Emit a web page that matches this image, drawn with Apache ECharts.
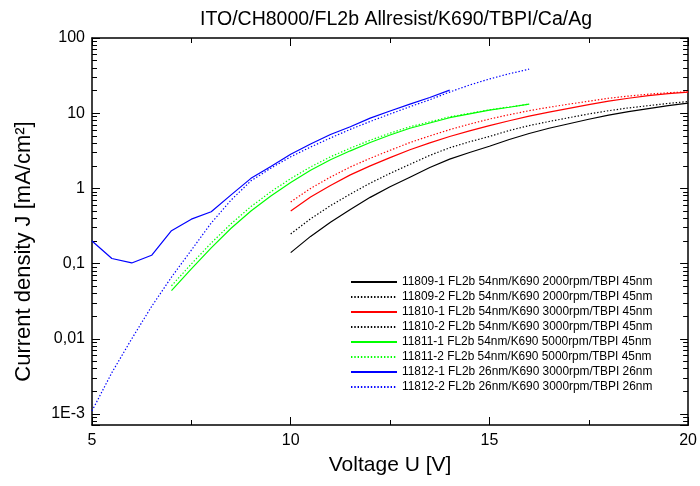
<!DOCTYPE html>
<html>
<head>
<meta charset="utf-8">
<script src="https://cdn.jsdelivr.net/npm/echarts@6/dist/echarts.min.js"></script>
<style>html,body{margin:0;padding:0;background:#fff}#c{width:700px;height:486px}</style>
</head>
<body>
<div id="c"></div>
<script>
// ---- data ----
const title = 'ITO/CH8000/FL2b Allresist/K690/TBPI/Ca/Ag';
const xName = 'Voltage U [V]';
const yName = 'Current density J [mA/cm²]';
const xTickValues = [5, 10, 15, 20];
const yTickLabels = {'-3': '1E-3', '-2': '0,01', '-1': '0,1', '0': '1', '1': '10', '2': '100'};
const yMin = 7.14e-4, yMax = 100;
const seriesNames = [
  '11809-1 FL2b 54nm/K690 2000rpm/TBPI 45nm',
  '11809-2 FL2b 54nm/K690 2000rpm/TBPI 45nm',
  '11810-1 FL2b 54nm/K690 3000rpm/TBPI 45nm',
  '11810-2 FL2b 54nm/K690 3000rpm/TBPI 45nm',
  '11811-1 FL2b 54nm/K690 5000rpm/TBPI 45nm',
  '11811-2 FL2b 54nm/K690 5000rpm/TBPI 45nm',
  '11812-1 FL2b 26nm/K690 3000rpm/TBPI 26nm',
  '11812-2 FL2b 26nm/K690 3000rpm/TBPI 26nm'
];
const volt10to20 = [10,10.5,11,11.5,12,12.5,13,13.5,14,14.5,15,15.5,16,16.5,17,17.5,18,18.5,19,19.5,20];
const volt7to16 = [7,7.5,8,8.5,9,9.5,10,10.5,11,11.5,12,12.5,13,13.5,14,14.5,15,15.5,16];
const volt5to14 = [5,5.5,6,6.5,7,7.5,8,8.5,9,9.5,10,10.5,11,11.5,12,12.5,13,13.5,14];
const volt5to16 = [5,5.5,6,6.5,7,7.5,8,8.5,9,9.5,10,10.5,11,11.5,12,12.5,13,13.5,14,14.5,15,15.5,16];

const j11809_1 = [0.14,0.23,0.355,0.525,0.76,1.05,1.41,1.9,2.45,3.0,3.63,4.47,5.37,6.3,7.24,8.3,9.44,10.5,11.5,12.6,13.6];
const j11809_2 = [0.248,0.394,0.589,0.841,1.175,1.585,2.09,2.75,3.47,4.17,4.9,5.89,6.84,7.76,8.71,9.77,10.8,11.75,12.6,13.5,14.3];
const j11810_1 = [0.501,0.767,1.096,1.514,1.995,2.57,3.27,4.03,4.9,5.82,6.84,7.94,9.12,10.35,11.6,12.97,14.45,15.8,17.1,18.2,19.05];
const j11810_2 = [0.661,1.0,1.413,1.928,2.512,3.21,4.07,4.99,6.04,7.16,8.36,9.55,10.8,12.0,13.2,14.45,15.8,16.9,17.9,18.7,19.3];
const j11811_1 = [0.0437,0.0851,0.162,0.295,0.501,0.794,1.2,1.74,2.4,3.16,4.07,5.13,6.31,7.41,8.71,9.77,10.96,12.0,13.2];
const j11811_2 = [0.0507,0.0989,0.188,0.339,0.573,0.902,1.35,1.93,2.63,3.43,4.37,5.43,6.61,7.67,8.95,9.95,11.1,12.1,13.2];
const j11812_1 = [0.2,0.117,0.102,0.129,0.274,0.39,0.49,0.82,1.36,1.95,2.84,3.9,5.2,6.6,8.6,10.7,13.2,16.2,20.3];
const j11812_2 = [0.0011,0.00355,0.01,0.0269,0.0661,0.151,0.347,0.7,1.26,1.86,2.63,3.55,4.68,6.1,7.76,9.77,12.2,15.1,19.1,23.7,28.5,33.5,38.5];

// ---- build chart ----
const FONT = '"Liberation Sans", Arial, sans-serif';
const zip = (xs, ys) => xs.map((x, i) => [x, ys[i]]);
const dotted = [1.4, 1.9];
const seriesDefs = [
  [volt10to20, j11809_1, '#000000', 'solid'],
  [volt10to20, j11809_2, '#000000', dotted],
  [volt10to20, j11810_1, '#ff0000', 'solid'],
  [volt10to20, j11810_2, '#ff0000', dotted],
  [volt7to16, j11811_1, '#00ff00', 'solid'],
  [volt7to16, j11811_2, '#00ff00', dotted],
  [volt5to14, j11812_1, '#0000ff', 'solid'],
  [volt5to16, j11812_2, '#0000ff', dotted]
];
const series = seriesDefs.map((d, i) => ({
  name: seriesNames[i], type: 'line', data: zip(d[0], d[1]),
  xAxisIndex: 0, yAxisIndex: 0, symbol: 'none', smooth: false,
  lineStyle: {color: d[2], width: 1.2, type: d[3]}, itemStyle: {color: d[2]},
  z: 3
}));

function yFmt(v) {
  const e = Math.log10(v);
  const r = Math.round(e);
  if (Math.abs(e - r) > 1e-6) return '';
  return yTickLabels[String(r)] || '';
}

const yAxes = [];
['left', 'right'].forEach(pos => {
  yAxes.push({
    type: 'log', logBase: 10, min: yMin, max: yMax, position: pos,
    axisLine: {show: true, lineStyle: {color: '#000', width: 1.5}},
    axisTick: {show: true, inside: true, length: 8, lineStyle: {color: '#000', width: 1}},
    axisLabel: {show: pos === 'left', formatter: yFmt, fontSize: 16, color: '#000', fontFamily: FONT, margin: 7},
    splitLine: {show: false},
    name: pos === 'left' ? yName : '', nameLocation: 'middle', nameGap: 57,
    nameTextStyle: {fontSize: 22, color: '#000', fontFamily: FONT, padding: [0, 40, 0, 0]}
  });
});
// minor log ticks at 2..9 x 10^n: axes whose decades fall on those positions
const minorFactors = [2, 3, 4, 5, 6, 7, 8, 9];
['left', 'right'].forEach(pos => {
  minorFactors.forEach(k => {
    yAxes.push({
      type: 'log', logBase: 10, min: yMin / k, max: yMax / k, position: pos,
      axisLine: {show: false},
      axisTick: {show: true, inside: true, length: 5, lineStyle: {color: '#000', width: 1}},
      axisLabel: {show: false}, splitLine: {show: false}
    });
  });
});

const xAxes = ['bottom', 'top'].map(pos => ({
  type: 'value', min: 5, max: 20, interval: 5, position: pos,
  axisLine: {show: true, lineStyle: {color: '#000', width: 1.5}},
  axisTick: {show: true, inside: true, length: 8, lineStyle: {color: '#000', width: 1}},
  minorTick: {show: true, splitNumber: 2, length: 5, lineStyle: {color: '#000', width: 1}},
  axisLabel: {show: pos === 'bottom', fontSize: 16, color: '#000', fontFamily: FONT, margin: 8,
    formatter: v => xTickValues.indexOf(v) >= 0 ? String(v) : ''},
  splitLine: {show: false},
  name: pos === 'bottom' ? xName : '', nameLocation: 'middle', nameGap: 30,
  nameTextStyle: {fontSize: 21, color: '#000', fontFamily: FONT}
}));

const legendData = seriesNames.map((n, i) => i === 3 ? {name: n, lineStyle: {color: '#000000'}} : {name: n});

const chart = echarts.init(document.getElementById('c'), null, {renderer: 'canvas'});
chart.setOption({
  animation: false,
  backgroundColor: '#fff',
  title: {text: title, left: 391, top: 5, textAlign: 'center',
    textStyle: {fontSize: 19.5, fontWeight: 'normal', color: '#000', fontFamily: FONT}},
  grid: {left: 92, right: 10, top: 38, bottom: 61, containLabel: false},
  legend: {
    orient: 'vertical', left: 345, top: 271, itemWidth: 46, itemHeight: 12, itemGap: 3,
    data: legendData,
    itemStyle: {opacity: 0},
    textStyle: {fontSize: 11.9, lineHeight: 12, color: '#000', fontFamily: FONT}
  },
  xAxis: xAxes,
  yAxis: yAxes,
  series: series
});
</script>
</body>
</html>
